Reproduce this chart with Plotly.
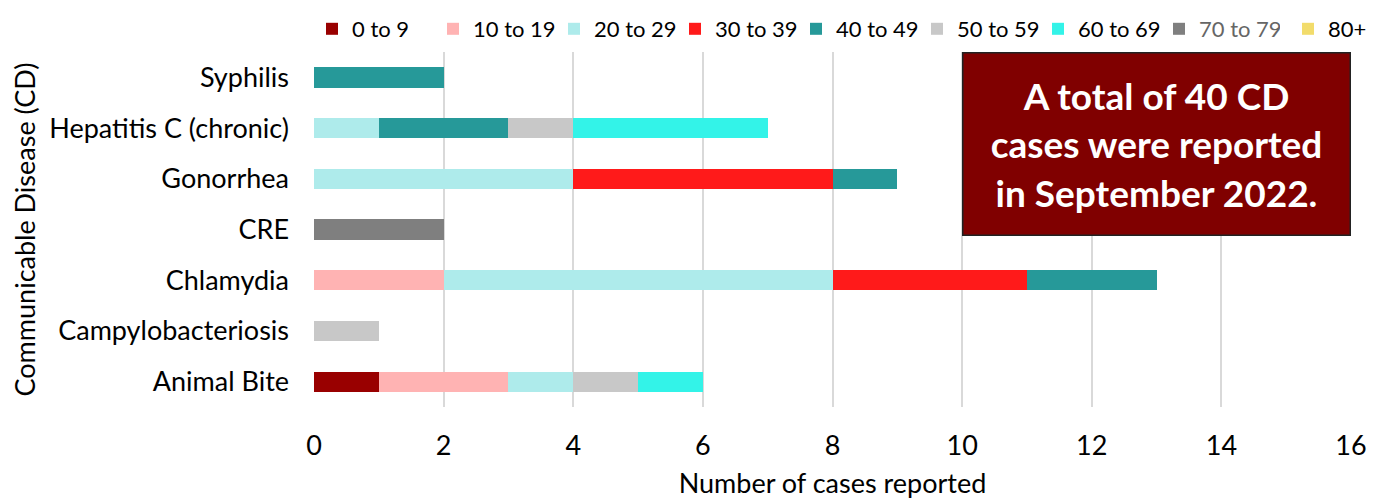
import plotly.graph_objects as go

categories = ["Animal Bite", "Campylobacteriosis", "Chlamydia", "CRE", "Gonorrhea", "Hepatitis C (chronic)", "Syphilis"]
age_groups = ["0 to 9", "10 to 19", "20 to 29", "30 to 39", "40 to 49", "50 to 59", "60 to 69", "70 to 79", "80+"]
v_0_9   = [1, 0, 0, 0, 0, 0, 0]
v_10_19 = [2, 0, 2, 0, 0, 0, 0]
v_20_29 = [1, 0, 6, 0, 4, 1, 0]
v_30_39 = [0, 0, 3, 0, 4, 0, 0]
v_40_49 = [0, 0, 2, 0, 1, 2, 2]
v_50_59 = [1, 1, 0, 0, 0, 1, 0]
v_60_69 = [1, 0, 0, 0, 0, 3, 0]
v_70_79 = [0, 0, 0, 2, 0, 0, 0]
v_80p   = [0, 0, 0, 0, 0, 0, 0]
series = [v_0_9, v_10_19, v_20_29, v_30_39, v_40_49, v_50_59, v_60_69, v_70_79, v_80p]
colors = ["#990000", "#FFB3B3", "#AEEBEB", "#FF1A1A", "#269999", "#C8C8C8", "#33F3E8", "#7F7F7F", "#F2DC6B"]
x_ticks = [0, 2, 4, 6, 8, 10, 12, 14, 16]

FONT = "Lato, 'Open Sans', sans-serif"
fig = go.Figure()
for name, vals, col in zip(age_groups, series, colors):
    label = name if name != "70 to 79" else "<span style='color:#666666'>70 to 79</span>"
    fig.add_trace(go.Bar(
        y=categories, x=vals, name=label, orientation="h",
        marker=dict(color=col, line=dict(width=0)),
        legend="legend2" if name == "80+" else "legend",
    ))

W, H = 1395, 498
fig.update_layout(
    barmode="stack",
    bargap=0.6,
    width=W, height=H,
    margin=dict(l=306, r=52, t=44, b=99, autoexpand=False),
    plot_bgcolor="white", paper_bgcolor="white",
    font=dict(family=FONT, size=27, color="#000000"),
    legend=dict(orientation="h", x=304 / W, xanchor="left", xref="container",
                y=1.0, yanchor="top", yref="container", font=dict(size=22), traceorder="normal",
                entrywidth=76, entrywidthmode="pixels", itemwidth=30),
    legend2=dict(orientation="h", x=1280 / W, xanchor="left", xref="container",
                 y=1.0, yanchor="top", yref="container", font=dict(size=22), itemwidth=30),
    xaxis=dict(range=[0, 16], tickvals=x_ticks, showgrid=True, gridcolor="#D9D9D9", gridwidth=2,
               zeroline=False, showline=False, ticks="", ticklabelstandoff=20,
               title=dict(text="Number of cases reported", font=dict(size=27), standoff=14),
               tickfont=dict(size=27)),
    yaxis=dict(categoryorder="array", categoryarray=categories, showgrid=False, ticks="",
               title=dict(text="Communicable Disease (CD)", font=dict(size=27), standoff=10),
               tickfont=dict(size=27), ticklabelstandoff=24),
)

x0 = (962 - 314) / 1037
y0 = (407 - 236) / 355
fig.add_annotation(xref="paper", yref="paper", x=(x0 + 1.0) / 2, y=(1.0 + y0) / 2,
                   xanchor="center", yanchor="middle",
                   width=386, height=181, bgcolor="#800000", bordercolor="#222222", borderwidth=1.5,
                   borderpad=0,
                   text="<b>A total of 40 CD<br>cases were reported<br>in September 2022.</b>",
                   showarrow=False, font=dict(size=37, color="white", family=FONT), align="center")

fig.write_html("out.html")
